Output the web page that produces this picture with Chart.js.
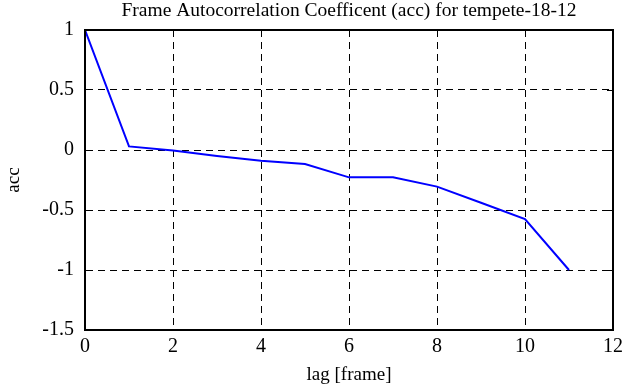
<!DOCTYPE html>
<html>
<head>
<meta charset="utf-8">
<script src="https://cdn.jsdelivr.net/npm/chart.js@4/dist/chart.umd.min.js"></script>
<style>
  html, body { margin: 0; padding: 0; background: #fff; }
  #wrap { width: 641px; height: 387px; }
</style>
</head>
<body>
<div id="wrap"><canvas id="accChart"></canvas></div>
<script>
// lag values and autocorrelation
const lags = [0, 1, 2, 3, 4, 5, 6, 7, 8, 9, 10, 11];
const acc = [1, 0.03, -0.005, -0.05, -0.09, -0.117, -0.228, -0.228, -0.305, -0.44, -0.575, -1.0];
const xRange = [0, 12];
const yRange = [-1.5, 1];
const titleText = 'Frame Autocorrelation Coefficent (acc) for tempete-18-12';

const serif = "'Liberation Serif', 'DejaVu Serif', serif";
const fmt = v => String(Number(v.toFixed(1)));

// closed frame, small inward ticks on top / right, title centred over the plot
const frame = {
  id: 'frame',
  afterDraw(chart) {
    const { ctx, chartArea: a, scales } = chart;
    ctx.save();
    ctx.strokeStyle = '#000';
    ctx.lineWidth = 2;
    ctx.strokeRect(a.left, a.top, a.right - a.left, a.bottom - a.top);
    ctx.lineWidth = 1;
    ctx.beginPath();
    scales.x.ticks.forEach(t => {
      const px = Math.round(scales.x.getPixelForValue(t.value)) + 0.5;
      ctx.moveTo(px, a.top); ctx.lineTo(px, a.top + 6);
    });
    scales.y.ticks.forEach(t => {
      const py = Math.round(scales.y.getPixelForValue(t.value)) + 0.5;
      ctx.moveTo(a.right, py); ctx.lineTo(a.right - 6, py);
    });
    ctx.stroke();

    ctx.fillStyle = '#000';
    ctx.font = '19.5px ' + serif;
    ctx.textAlign = 'center';
    ctx.textBaseline = 'alphabetic';
    ctx.fillText(titleText, (a.left + a.right) / 2, 16);
    ctx.restore();
  }
};

const data = {
  datasets: [{
    label: 'acc',
    data: lags.map((l, i) => ({ x: l, y: acc[i] })),
    borderColor: '#0000ff',
    borderWidth: 2,
    pointRadius: 0,
    tension: 0,
    fill: false
  }]
};

const config = {
  type: 'line',
  data: data,
  options: {
    responsive: true,
    maintainAspectRatio: false,
    animation: false,
    layout: { padding: { left: 0, right: 28, top: 30, bottom: 0 } },
    plugins: {
      legend: { display: false },
      tooltip: { enabled: false },
      title: { display: false }
    },
    scales: {
      x: {
        type: 'linear',
        min: xRange[0],
        max: xRange[1],
        afterFit: s => { s.height = 57; },
        ticks: { stepSize: 2, color: '#000', padding: 5, font: { family: serif, size: 20 }, callback: fmt },
        grid: { color: '#000', lineWidth: 1, drawTicks: false },
        border: { display: true, color: '#000', width: 2 },
        title: {
          display: true, text: 'lag [frame]', color: '#000',
          font: { family: serif, size: 19 }, padding: { top: 0, bottom: 1 }
        }
      },
      y: {
        type: 'linear',
        min: yRange[0],
        max: yRange[1],
        afterFit: s => { s.width = 85; },
        ticks: { stepSize: 0.5, color: '#000', padding: 11, font: { family: serif, size: 20 }, callback: fmt },
        grid: { color: '#000', lineWidth: 1, drawTicks: false },
        border: { display: true, color: '#000', width: 2 },
        title: {
          display: true, text: 'acc', color: '#000',
          font: { family: serif, size: 19 }, padding: { top: 3, bottom: 0 }
        }
      }
    }
  },
  plugins: [frame]
};

// dashed gridlines
config.options.scales.x.grid.borderDash = [7, 5];
config.options.scales.y.grid.borderDash = [7, 5];
config.options.scales.x.border.dash = [7, 5];
config.options.scales.y.border.dash = [7, 5];

new Chart(document.getElementById('accChart'), config);
</script>
</body>
</html>
